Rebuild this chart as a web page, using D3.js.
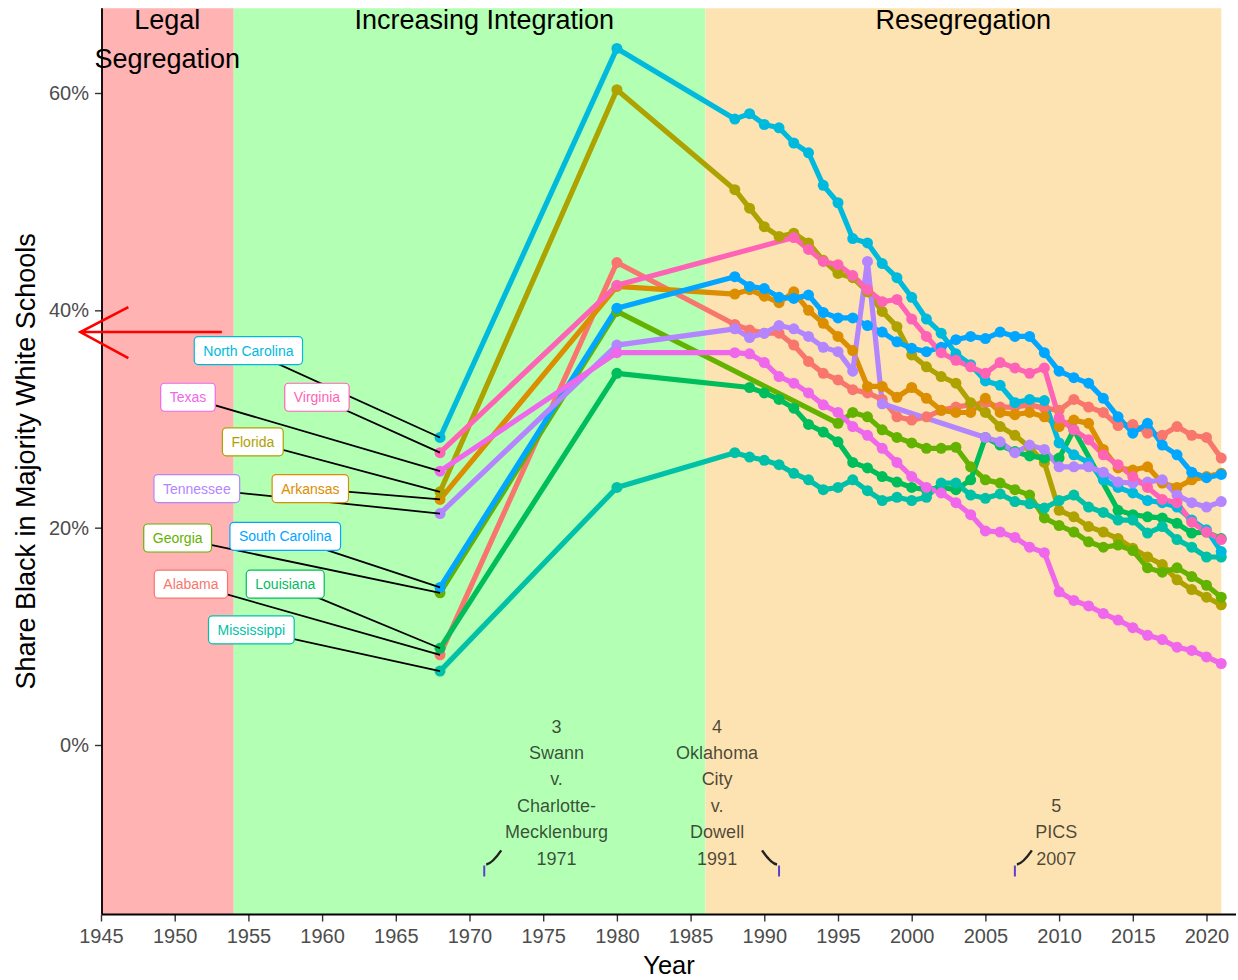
<!DOCTYPE html>
<html>
<head>
<meta charset="utf-8">
<script src="https://cdn.jsdelivr.net/npm/d3@7"></script>
<style>
  body { margin: 0; background: #fff; }
  text { font-family: "Liberation Sans", Arial, Helvetica, sans-serif; }
</style>
</head>
<body>
<svg id="chart" width="1238" height="980"></svg>
<script>
// years present in the data (1968, 1980, then annual from 1988)
const years = [1968, 1980, 1988, 1989, 1990, 1991, 1992, 1993, 1994, 1995, 1996, 1997,
  1998, 1999, 2000, 2001, 2002, 2003, 2004, 2005, 2006, 2007, 2008, 2009, 2010,
  2011, 2012, 2013, 2014, 2015, 2016, 2017, 2018, 2019, 2020, 2021];

const stateNames = ["Alabama", "Arkansas", "Florida", "Georgia", "Louisiana", "Mississippi",
  "North Carolina", "South Carolina", "Tennessee", "Texas", "Virginia"];

// share black in majority white schools (%), null = no observation
const alabama = [8.3, 44.4, 38.7, 38.2, 37.9, 37.9, 36.8, 35.3, 34.2, 33.6, 32.7, 32.4, 31.8, 30.2, 29.9, 30.2, 30.8, 31.1, 31.3, 31.5, 31.1, 31.1, 31.3, 31.0, 30.8, 31.8, 31.1, 30.6, 29.4, 29.5, 28.7, 28.5, 29.3, 28.5, 28.3, 26.4];
const arkansas = [22.6, 42.2, 41.5, 41.9, 41.3, 40.7, 41.7, 40.0, 38.8, 37.6, 36.3, 33.0, 33.0, 32.0, 32.9, 31.9, 30.8, 30.6, 30.6, 31.9, 30.6, 30.4, 30.6, 30.2, 29.3, 29.9, 29.6, 27.2, 25.5, 25.3, 25.6, 24.1, 23.7, 24.4, 24.7, 25.0];
const florida = [23.3, 60.3, 51.1, 49.4, 47.7, 46.8, 47.1, 46.2, 44.6, 43.4, 43.0, 41.7, 39.9, 38.5, 35.9, 34.8, 33.9, 33.3, 31.5, 30.6, 29.3, 28.5, 27.4, 26.0, 21.6, 21.0, 20.1, 19.6, 19.0, 18.1, 17.3, 16.6, 15.2, 14.3, 13.6, 12.9];
const georgia = [14.0, 39.9, null, null, null, null, null, null, null, 29.6, 30.6, 30.2, 29.0, 28.3, 27.8, 27.3, 27.3, 27.4, 25.6, 24.4, 24.1, 23.5, 23.0, 20.9, 20.2, 19.6, 18.7, 18.2, 18.4, 17.9, 16.3, 15.9, 16.3, 15.5, 14.7, 13.6];
const louisiana = [8.9, 34.2, null, 32.9, 32.4, 31.8, 31.0, 29.5, 28.8, 27.9, 26.0, 25.5, 24.7, 24.2, 23.7, 23.5, 23.7, 23.5, 24.4, 28.3, 27.6, 27.0, 26.6, 26.4, 26.4, 29.0, null, null, 21.6, 21.2, 21.0, 20.9, 20.4, 19.5, 19.6, 19.0];
const mississippi = [6.8, 23.7, 26.9, 26.5, 26.2, 25.8, 25.0, 24.4, 23.5, 23.7, 24.4, 23.4, 22.5, 22.8, 22.5, 22.8, 24.1, 24.1, 23.0, 22.7, 23.1, 22.4, 22.2, 21.8, 22.5, 23.0, 21.9, 21.4, 20.7, 20.7, 19.5, 20.1, 18.9, 18.2, 17.3, 17.3];
const northCarolina = [28.3, 64.1, 57.6, 58.1, 57.1, 56.8, 55.4, 54.5, 51.5, 49.9, 46.6, 46.2, 44.3, 43.0, 41.2, 39.2, 37.9, 36.0, 35.0, 33.5, 33.1, 31.5, 31.8, 31.7, 27.8, 26.7, 26.0, 24.4, 23.7, 23.2, 22.5, 22.3, 21.9, 20.7, 19.8, 17.8];
const southCarolina = [14.5, 40.2, 43.1, 42.2, 42.0, 41.2, 41.1, 41.4, 39.8, 39.3, 39.3, 38.6, 38.0, 37.1, 36.5, 36.2, 36.6, 37.3, 37.6, 37.4, 38.0, 37.6, 37.6, 36.1, 34.4, 33.8, 33.3, 31.9, 30.2, 28.7, 29.6, 27.6, 26.7, 25.1, 24.6, 24.9];
const tennessee = [21.3, 36.8, 38.3, 37.5, 37.9, 38.6, 38.3, 37.6, 36.6, 36.2, 34.4, 44.5, 31.4, null, null, null, null, null, null, 28.3, 27.9, 26.9, 27.6, 27.2, 25.6, 25.6, 25.6, 25.1, 24.2, 24.1, 24.2, 24.4, 23.0, 22.3, 21.9, 22.4];
const texas = [25.2, 36.1, 36.1, 36.0, 35.2, 33.9, 33.3, 32.4, 31.3, 30.6, 29.3, 28.5, 27.3, 26.0, 24.7, 23.7, 23.2, 22.3, 21.2, 19.7, 19.6, 19.1, 18.2, 17.7, 14.1, 13.3, 12.8, 12.1, 11.5, 10.8, 10.1, 9.7, 9.0, 8.7, 8.1, 7.5];
const virginia = [26.9, 42.3, null, null, null, null, 46.7, 45.6, 44.5, 44.2, 43.2, 41.9, 40.8, 41.0, 39.2, 37.6, 36.1, 35.4, 34.8, 34.2, 35.2, 34.7, 34.2, 34.7, 30.1, 29.0, 28.1, 26.7, 25.8, 24.7, 23.7, 22.6, 22.3, 20.5, 19.6, 18.9];

const stateValues = [alabama, arkansas, florida, georgia, louisiana, mississippi,
  northCarolina, southCarolina, tennessee, texas, virginia];

// where the repelled name labels ended up (year, %)
const labelAnchors = [[1951.1, 14.8], [1959.2, 23.6], [1955.3, 27.9], [1950.2, 19.05],
  [1957.5, 14.8], [1955.2, 10.6], [1955.0, 36.3], [1957.5, 19.2], [1951.5, 23.6],
  [1950.9, 32.0], [1959.65, 32.0]];

const eraNames = [["Legal", "Segregation"], ["Increasing Integration"], ["Resegregation"]];
const eraStart = [1945, 1954, 1986];
const eraEnd = [1954, 1986, 2021];
const eraLabelYear = [1949.5, 1971, 2003.5];

const caseYears = [1971, 1991, 2007];
const caseLines = [
  ["3", "Swann", "v.", "Charlotte-", "Mecklenburg", "1971"],
  ["4", "Oklahoma", "City", "v.", "Dowell", "1991"],
  ["5", "PICS", "2007"]
];
const caseLabelYear = [1975.9, 1986.8, 2009.8];

const xTicks = [1945, 1950, 1955, 1960, 1965, 1970, 1975, 1980, 1985, 1990, 1995, 2000, 2005, 2010, 2015, 2020];
const yTicks = [0, 20, 40, 60];

// ---------------------------------------------------------------
const colors = ["#F8766D", "#DB8E00", "#AEA200", "#64B200", "#00BD5C", "#00C1A7",
  "#00BADE", "#00A6FF", "#B385FF", "#EF67EB", "#FF63B6"];
const eraFill = ["#FFB3B3", "#B3FFB3", "#FDE3B2"];

const svg = d3.select("#chart");
const x = d3.scaleLinear().domain([1945, 2020]).range([101, 1206.5]);
const y = d3.scaleLinear().domain([0, 60]).range([745, 93]);

const panelTop = y(67.8), panelBottom = y(-15.6);
const panelLeft = x(1945) + 1, panelRight = x(2022);

// era backgrounds
svg.selectAll("rect.era")
  .data(eraNames)
  .join("rect")
  .attr("class", "era")
  .attr("x", (d, i) => x(eraStart[i]))
  .attr("width", (d, i) => x(eraEnd[i]) - x(eraStart[i]))
  .attr("y", panelTop)
  .attr("height", panelBottom - panelTop)
  .attr("fill", (d, i) => eraFill[i]);

// axes
const xAxis = svg.append("g")
  .attr("transform", `translate(0,${panelBottom})`)
  .call(d3.axisBottom(x).tickValues(xTicks).tickFormat(d3.format("d")).tickSize(7).tickPadding(7));
const yAxis = svg.append("g")
  .attr("transform", `translate(${panelLeft},0)`)
  .call(d3.axisLeft(y).tickValues(yTicks).tickFormat(d => d + "%").tickSize(7).tickPadding(6));
[xAxis, yAxis].forEach(g => {
  g.select(".domain").remove();
  g.selectAll(".tick line").attr("stroke", "#333").attr("stroke-width", 1.4);
  g.selectAll(".tick text").attr("fill", "#4D4D4D").style("font-size", "20px")
    .style("font-family", '"Liberation Sans", Arial, sans-serif');
});
svg.append("line").attr("x1", panelLeft).attr("x2", panelRight).attr("y1", panelBottom).attr("y2", panelBottom)
  .attr("stroke", "#000").attr("stroke-width", 1.8);
svg.append("line").attr("x1", panelLeft).attr("x2", panelLeft).attr("y1", panelTop).attr("y2", panelBottom)
  .attr("stroke", "#000").attr("stroke-width", 1.8);

// axis titles
svg.append("text").attr("x", (panelLeft + panelRight) / 2).attr("y", 974)
  .attr("text-anchor", "middle").style("font-size", "25.5px").text("Year");
svg.append("text").attr("transform", `translate(34.5,${(panelTop + panelBottom) / 2}) rotate(-90)`)
  .attr("text-anchor", "middle").style("font-size", "27px")
  .text("Share Black in Majority White Schools");

// series
const series = stateNames.map((name, i) => ({
  name,
  color: colors[i],
  anchor: labelAnchors[i],
  points: years.map((yr, j) => ({ year: yr, v: stateValues[i][j] })).filter(p => p.v != null)
}));

const line = d3.line().x(d => x(d.year)).y(d => y(d.v));

svg.append("g").selectAll("path")
  .data(series)
  .join("path")
  .attr("d", d => line(d.points))
  .attr("fill", "none")
  .attr("stroke", d => d.color)
  .attr("stroke-width", 5.2)
  .attr("stroke-linejoin", "round");

svg.append("g").selectAll("g")
  .data(series)
  .join("g")
  .attr("fill", d => d.color)
  .selectAll("circle")
  .data(d => d.points)
  .join("circle")
  .attr("cx", d => x(d.year))
  .attr("cy", d => y(d.v))
  .attr("r", 5.5);

// repelled labels: segments first, then boxes
svg.append("g").selectAll("line")
  .data(series)
  .join("line")
  .attr("x1", d => x(d.anchor[0]))
  .attr("y1", d => y(d.anchor[1]))
  .attr("x2", d => x(d.points[0].year))
  .attr("y2", d => y(d.points[0].v))
  .attr("stroke", "#000")
  .attr("stroke-width", 1.8);

const labels = svg.append("g").selectAll("g")
  .data(series)
  .join("g")
  .attr("transform", d => `translate(${x(d.anchor[0])},${y(d.anchor[1])})`);
labels.append("rect");
labels.append("text")
  .attr("text-anchor", "middle")
  .attr("dy", "0.36em")
  .attr("fill", d => d.color)
  .style("font-size", "14px")
  .text(d => d.name);
labels.each(function () {
  const g = d3.select(this);
  const w = g.select("text").node().getComputedTextLength() + 18;
  g.select("rect")
    .attr("x", -w / 2).attr("y", -14)
    .attr("width", w).attr("height", 28)
    .attr("rx", 4)
    .attr("fill", "#fff")
    .attr("stroke", d => d.color)
    .attr("stroke-width", 1.2);
});

// era titles
eraNames.forEach((lines, i) => {
  const t = svg.append("text")
    .attr("x", x(eraLabelYear[i]))
    .attr("y", 29)
    .attr("text-anchor", "middle")
    .style("font-size", "27px");
  lines.forEach((s, k) => t.append("tspan").attr("x", x(eraLabelYear[i])).attr("dy", k ? 38.5 : 0).text(s));
});

// court case annotations
const lineGap = 26.4;
caseLines.forEach((lines, i) => {
  const baseY = y(-10.4) + 6.5;
  svg.append("g").selectAll("text")
    .data(lines)
    .join("text")
    .attr("x", x(caseLabelYear[i]))
    .attr("y", (d, k) => baseY - (lines.length - 1 - k) * lineGap)
    .attr("text-anchor", "middle")
    .attr("fill", "#000")
    .attr("fill-opacity", 0.7)
    .style("font-size", "18px")
    .text(d => d);

  const xt = x(caseYears[i]);
  const s = caseLabelYear[i] > caseYears[i] ? 1 : -1;
  const y0 = y(-11), y1 = y(-9.7);
  svg.append("path")
    .attr("d", `M${xt + s * 2},${y0} Q${xt + s * 8},${y0 - 1} ${xt + s * 17},${y1}`)
    .attr("fill", "none")
    .attr("stroke", "#222")
    .attr("stroke-width", 2.4);
  svg.append("line")
    .attr("x1", xt).attr("x2", xt)
    .attr("y1", y0 + 1).attr("y2", y(-12.1))
    .attr("stroke", "#5a3fd0")
    .attr("stroke-width", 2);
});

// red arrow pointing off the left of the chart
const ay = y(38);
const ax0 = x(1953.2), ax1 = x(1943.6);
svg.append("path")
  .attr("d", `M${ax0},${ay} L${ax1},${ay} M${ax1 + 48},${ay - 25} L${ax1},${ay} L${ax1 + 48},${ay + 26}`)
  .attr("fill", "none")
  .attr("stroke", "red")
  .attr("stroke-width", 2.6);
</script>
</body>
</html>
